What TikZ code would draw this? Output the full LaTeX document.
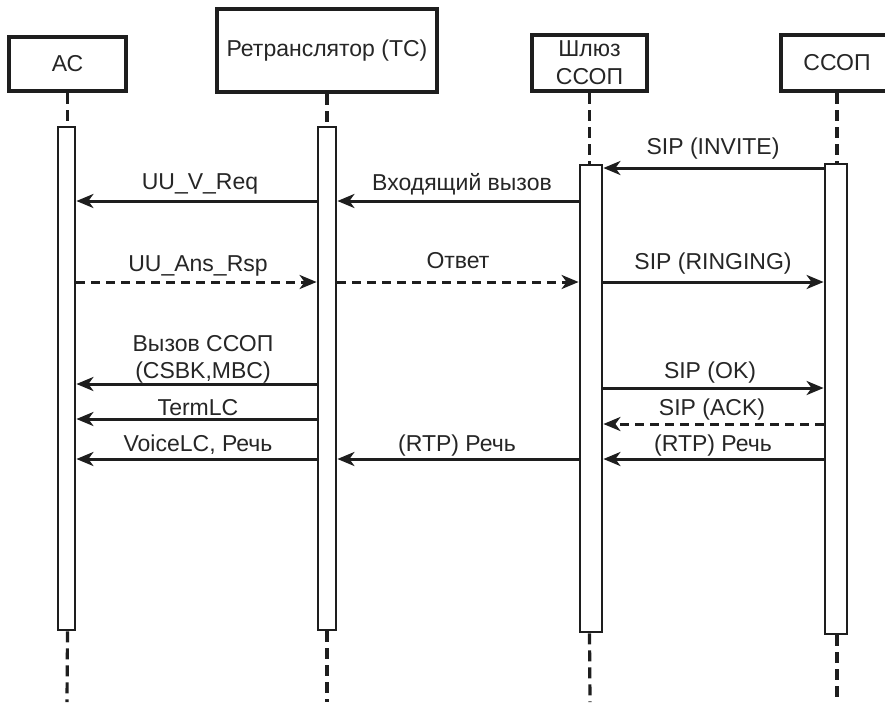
\documentclass[tikz,border=0pt]{standalone}
\usepackage{fontspec}
\setmainfont{Liberation Sans}
\usetikzlibrary{arrows.meta}
\definecolor{ink}{RGB}{30,30,30}
\definecolor{txt}{RGB}{38,38,38}
\begin{document}
\begin{tikzpicture}[x=1pt,y=-1pt,
  every node/.style={font=\fontsize{23}{28}\selectfont, text=txt},
  head/.style={draw=ink, line width=4pt, inner sep=0pt, align=center},
  bar/.style={draw=ink, line width=2.8pt, fill=white, inner sep=0pt},
  life/.style={draw=ink, line width=3.2pt, dash pattern=on 11pt off 6pt},
  msg/.style={draw=ink, line width=3pt, -{Stealth[length=17pt,width=14pt,inset=5pt]}},
  reply/.style={msg, dash pattern=on 9pt off 6pt},
  lbl/.style={inner sep=0pt, text height=16pt, text depth=0pt}
]
\useasboundingbox (0,0) rectangle (885,702);
\fill[white] (0,0) rectangle (885,702);

% heads
\node[head, minimum width=117pt, minimum height=54pt] (ac) at (67.5,64) {АС};
\node[head, minimum width=220pt, minimum height=83pt] (tc) at (327,50.5) {Ретранслятор (ТС)};
\node[head, minimum width=115pt, minimum height=56pt] (gw) at (589.5,63) {Шлюз\\ССОП};
\node[head, minimum width=112pt, minimum height=56pt] (ps) at (837,63) {ССОП};

% activation bars
\node[bar, minimum width=17pt, minimum height=503pt] (acb) at (66.5,378.5) {};
\node[bar, minimum width=18pt, minimum height=503pt] (tcb) at (327,378.5) {};
\node[bar, minimum width=22pt, minimum height=467pt] (gwb) at (591,398.5) {};
\node[bar, minimum width=22pt, minimum height=470pt] (psb) at (836,399) {};

% bottom ends of lifelines
\coordinate (acz) at (67,702);
\coordinate (tcz) at (327,702);
\coordinate (gwz) at (590,702);
\coordinate (psz) at (837,702);

% lifelines
\draw[life] (ac.south) -- (ac.south |- acb.north);
\draw[life] (tc.south) -- (tc.south |- tcb.north);
\draw[life] (gw.south) -- (gw.south |- gwb.north);
\draw[life] (ps.south) -- (ps.south |- psb.north);
\draw[life] (ac.south |- acb.south) -- (acz);
\draw[life] (tc.south |- tcb.south) -- (tcz);
\draw[life] (gw.south |- gwb.south) -- (gwz);
\draw[life] (ps.south |- psb.south) -- (psz);

% message levels
\coordinate (m1) at (0,168);
\coordinate (m2) at (0,201);
\coordinate (m3) at (0,282);
\coordinate (m4) at (0,384);
\coordinate (m5) at (0,388);
\coordinate (m6) at (0,419);
\coordinate (m7) at (0,424);
\coordinate (m8) at (0,459);

% messages
\draw[msg] (psb.west |- m1) -- (gwb.east |- m1);
\draw[msg] (tcb.west |- m2) -- (acb.east |- m2);
\draw[msg] (gwb.west |- m2) -- (tcb.east |- m2);
\draw[reply] (acb.east |- m3) -- (tcb.west |- m3);
\draw[reply] (tcb.east |- m3) -- (gwb.west |- m3);
\draw[msg] (gwb.east |- m3) -- (psb.west |- m3);
\draw[msg] (tcb.west |- m4) -- (acb.east |- m4);
\draw[msg] (gwb.east |- m5) -- (psb.west |- m5);
\draw[msg] (tcb.west |- m6) -- (acb.east |- m6);
\draw[reply] (psb.west |- m7) -- (gwb.east |- m7);
\draw[msg] (tcb.west |- m8) -- (acb.east |- m8);
\draw[msg] (gwb.west |- m8) -- (tcb.east |- m8);
\draw[msg] (psb.west |- m8) -- (gwb.east |- m8);

% labels
\node[lbl] (l1) at (713,146) {SIP (INVITE)};
\node[lbl] (l2) at (200,181) {UU\_V\_Req};
\node[lbl] (l3) at (462,182) {Входящий вызов};
\node[lbl] (l4) at (198,263) {UU\_Ans\_Rsp};
\node[lbl] (l5) at (458,260) {Ответ};
\node[lbl] (l6) at (713,261) {SIP (RINGING)};
\node[lbl] (l7a) at (203,343) {Вызов ССОП};
\node[lbl] (l7b) at (203,370) {(CSBK,MBC)};
\node[lbl] (l8) at (710,370) {SIP (OK)};
\node[lbl] (l9) at (198,407) {TermLC};
\node[lbl] (l10) at (712,407) {SIP (ACK)};
\node[lbl] (l11) at (198,443) {VoiceLC, Речь};
\node[lbl] (l12) at (457,443) {(RTP) Речь};
\node[lbl] (l13) at (713,443) {(RTP) Речь};
\end{tikzpicture}
\end{document}
